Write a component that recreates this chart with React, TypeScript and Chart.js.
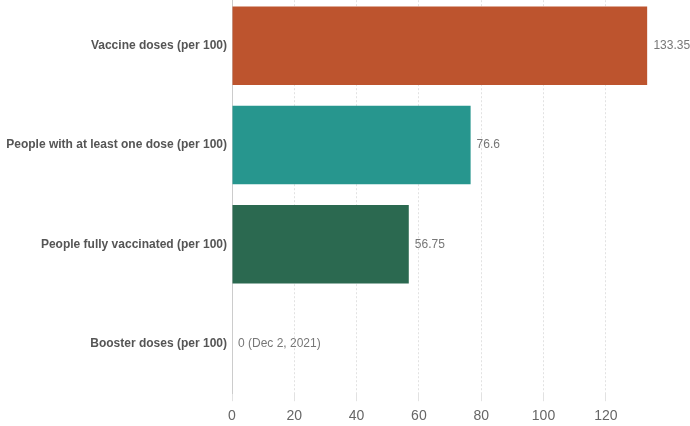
import React, { useEffect, useRef } from "react";
import { Chart, registerables } from "chart.js";

Chart.register(...registerables);

const categories = [
  "Vaccine doses (per 100)",
  "People with at least one dose (per 100)",
  "People fully vaccinated (per 100)",
  "Booster doses (per 100)",
];
const values = [133.35, 76.6, 56.75, 0];
const valueLabels = ["133.35", "76.6", "56.75", "0 (Dec 2, 2021)"];
const barColors = ["#bd542e", "#27968e", "#2b6950", "#888888"];
const xTickStep = 20;

const FONT = "'Liberation Sans', Arial, Helvetica, sans-serif";

const valueLabelPlugin = {
  id: "valueLabels",
  afterDatasetsDraw(chart: any) {
    const ctx = chart.ctx;
    const meta = chart.getDatasetMeta(0);
    ctx.save();
    ctx.font = `12px ${FONT}`;
    ctx.fillStyle = "#777777";
    ctx.textAlign = "left";
    ctx.textBaseline = "middle";
    meta.data.forEach((el: any, i: number) => {
      ctx.fillText(valueLabels[i], el.x + 6, el.y);
    });
    ctx.restore();
  },
};

export default function App() {
  const ref = useRef<HTMLCanvasElement>(null);
  useEffect(() => {
    if (!ref.current) return;
    const chart = new Chart(ref.current, {
      type: "bar",
      data: {
        labels: categories,
        datasets: [
          {
            data: values,
            backgroundColor: barColors,
            borderWidth: 0,
            barPercentage: 0.79,
            categoryPercentage: 1,
          },
        ],
      },
      options: {
        indexAxis: "y",
        responsive: false,
        animation: false,
        layout: { padding: { top: 0, right: 42.6, bottom: 3, left: 0 } },
        plugins: {
          legend: { display: false },
          tooltip: { enabled: false },
        },
        scales: {
          x: {
            type: "linear",
            min: 0,
            max: values[0],
            grid: {
              color: "#e2e2e2",
              lineWidth: 1,
              drawTicks: true,
              tickLength: 8,
            },
            border: { display: false, dash: [2, 2] },
            ticks: {
              stepSize: xTickStep,
              includeBounds: false,
              padding: 7,
              color: "#666666",
              font: { family: FONT, size: 14 },
            },
          },
          y: {
            grid: { display: false, drawTicks: false },
            border: { display: true, color: "#cccccc", width: 1 },
            afterFit: (s: any) => {
              s.width = 232;
            },
            ticks: {
              padding: 5,
              color: "#555555",
              font: { family: FONT, size: 12, weight: "bold" },
            },
          },
        },
      },
      plugins: [valueLabelPlugin],
    });
    return () => chart.destroy();
  }, []);
  return (
    <div style={{ position: "absolute", left: 0, top: -16.5, width: 690, height: 451 }}>
      <canvas ref={ref} width={690} height={451} />
    </div>
  );
}
